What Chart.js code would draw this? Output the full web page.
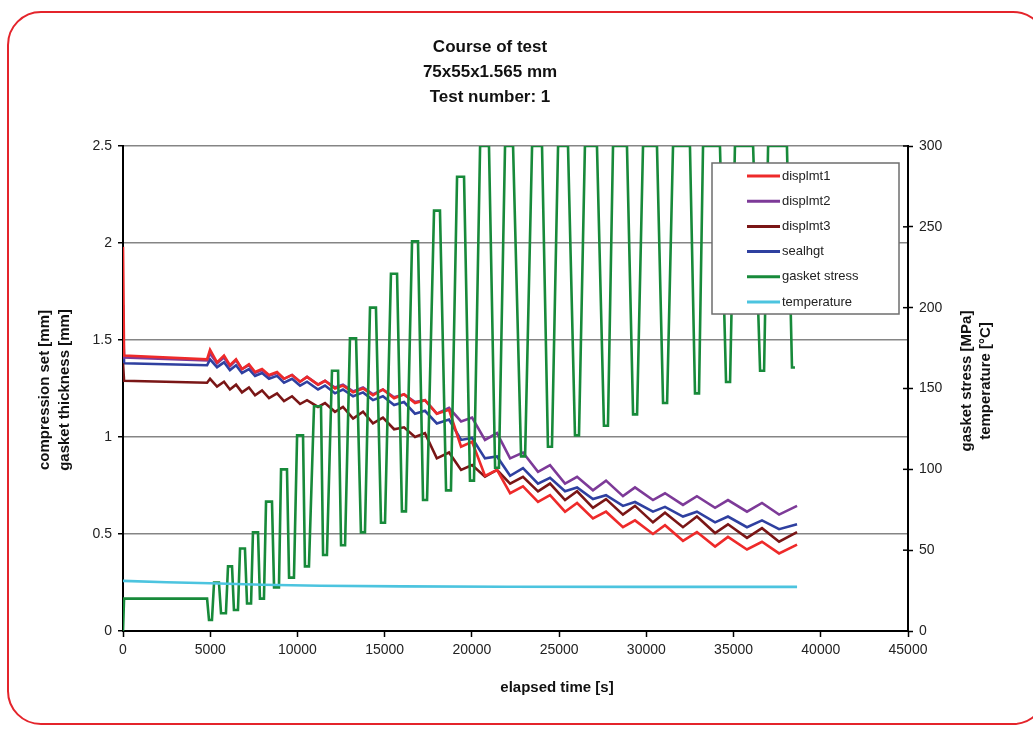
<!DOCTYPE html>
<html>
<head>
<meta charset="utf-8">
<script src="https://cdn.jsdelivr.net/npm/chart.js@4.4.1/dist/chart.umd.min.js"></script>
<style>
  body { margin: 0; background: #fff; overflow: hidden; width: 1033px; height: 730px; }
  #frame { position: absolute; left: 7px; top: 11px; width: 1040px; height: 714px; border: 2px solid #e4242b; border-radius: 34px; box-sizing: border-box; }
  #chart { position: absolute; left: 0; top: 0; }
</style>
</head>
<body>
<div id="frame"></div>
<canvas id="chart" width="1033" height="730"></canvas>
<script>
const FONT = "'Liberation Sans', Arial, sans-serif";

// titles
const titleLines = ['Course of test', '75x55x1.565 mm', 'Test number: 1'];
const leftTitle = ['compression set [mm]', 'gasket thickness [mm]'];
const rightTitle = ['gasket stress [MPa]', 'temperature [°C]'];
const xTitle = 'elapsed time [s]';

// elapsed time [s] for the displacement curves
const dispTime = [0, 60, 4820, 4990, 5390, 5790, 6130, 6480, 6820, 7220, 7570, 7970, 8370, 8830, 9230, 9690,
  10150, 10550, 11180, 11580, 12150, 12610, 13190, 13760, 14330, 14900, 15540, 16110, 16740, 17310, 17990,
  18690, 19380, 20010, 20750, 21440, 22190, 22930, 23790, 24480, 25340, 26030, 26940, 27690, 28660, 29350,
  30380, 31070, 32100, 32900, 33940, 34680, 35770, 36630, 37610, 38640];

// [mm]
const displmt1 = [1.98, 1.42, 1.40, 1.45, 1.385, 1.42, 1.37, 1.40, 1.35, 1.375, 1.335, 1.35, 1.32, 1.335, 1.30, 1.32,
  1.285, 1.31, 1.27, 1.29, 1.25, 1.265, 1.23, 1.25, 1.215, 1.245, 1.20, 1.22, 1.175, 1.19, 1.12,
  1.14, 0.95, 0.975, 0.80, 0.83, 0.71, 0.745, 0.665, 0.70, 0.615, 0.66, 0.58, 0.615, 0.535, 0.57,
  0.50, 0.545, 0.465, 0.51, 0.435, 0.485, 0.42, 0.46, 0.40, 0.445];
const displmt2 = [1.55, 1.41, 1.395, 1.43, 1.38, 1.41, 1.365, 1.395, 1.35, 1.37, 1.33, 1.345, 1.315, 1.33, 1.30, 1.32,
  1.285, 1.31, 1.27, 1.29, 1.255, 1.27, 1.235, 1.255, 1.22, 1.245, 1.205, 1.22, 1.18, 1.19, 1.12,
  1.15, 1.08, 1.10, 0.985, 1.02, 0.89, 0.92, 0.82, 0.855, 0.76, 0.795, 0.725, 0.775, 0.695, 0.74,
  0.675, 0.71, 0.65, 0.695, 0.635, 0.675, 0.615, 0.66, 0.60, 0.645];
const displmt3 = [1.38, 1.29, 1.28, 1.30, 1.26, 1.285, 1.245, 1.27, 1.23, 1.255, 1.215, 1.24, 1.20, 1.225, 1.185, 1.21,
  1.17, 1.19, 1.155, 1.175, 1.13, 1.155, 1.095, 1.13, 1.07, 1.10, 1.04, 1.05, 1.00, 1.02, 0.89,
  0.92, 0.83, 0.855, 0.795, 0.83, 0.76, 0.795, 0.72, 0.76, 0.675, 0.72, 0.635, 0.68, 0.60, 0.645,
  0.56, 0.61, 0.535, 0.59, 0.505, 0.55, 0.48, 0.53, 0.46, 0.51];
const sealhgt = [1.68, 1.38, 1.37, 1.40, 1.36, 1.385, 1.345, 1.37, 1.33, 1.35, 1.315, 1.33, 1.30, 1.315, 1.28, 1.30,
  1.265, 1.285, 1.245, 1.265, 1.225, 1.245, 1.21, 1.23, 1.19, 1.21, 1.165, 1.18, 1.12, 1.135, 1.07,
  1.09, 0.985, 0.995, 0.89, 0.90, 0.80, 0.84, 0.76, 0.79, 0.72, 0.74, 0.68, 0.70, 0.645, 0.665,
  0.615, 0.64, 0.59, 0.615, 0.56, 0.59, 0.535, 0.57, 0.525, 0.55];

// gasket stress [MPa]
const stressTime = [0, 60, 4820, 4930, 5100, 5220, 5500, 5620, 5900, 6020, 6250, 6360, 6590, 6710, 6990, 7110, 7340,
  7450, 7740, 7850, 8080, 8200, 8540, 8660, 8940, 9060, 9400, 9520, 9800, 9980, 10320, 10430, 10660,
  10950, 11350, 11470, 11690, 11980, 12330, 12500, 12730, 13010, 13360, 13640, 13870, 14160, 14500, 14790, 15020,
  15360, 15710, 15990, 16220, 16570, 16910, 17200, 17430, 17830, 18170, 18520, 18800, 19150, 19550, 19890, 20120,
  20470, 20980, 21330, 21550, 21900, 22360, 22820, 23050, 23450, 24020, 24360, 24590, 24940, 25510, 25910, 26140,
  26480, 27170, 27570, 27800, 28090, 28890, 29240, 29470, 29810, 30610, 30960, 31190, 31530, 32500, 32790, 33020,
  33250, 34220, 34570, 34800, 35080, 36120, 36520, 36750, 36980, 38060, 38350, 38520];
const stressMPa = [0, 20, 20, 6.8, 6.8, 30, 30, 11, 11, 40, 40, 13, 13, 51, 51, 17, 17,
  61, 61, 20, 20, 80, 80, 27, 27, 100, 100, 33, 33, 121, 121, 40, 40,
  139, 139, 47, 47, 161, 161, 53, 53, 181, 181, 61, 61, 200, 200, 67, 67,
  221, 221, 74, 74, 241, 241, 81, 81, 260, 260, 87, 87, 281, 281, 93, 93,
  300, 300, 101, 101, 300, 300, 108, 108, 300, 300, 114, 114, 300, 300, 121, 121,
  300, 300, 127, 127, 300, 300, 134, 134, 300, 300, 141, 141, 300, 300, 147, 147,
  300, 300, 154, 154, 300, 300, 161, 161, 300, 300, 163, 163];

// temperature [°C]
const tempTime = [0, 2500, 5000, 8000, 11300, 16000, 22000, 30000, 38640];
const tempC = [31, 30.2, 29.5, 28.6, 28.0, 27.6, 27.4, 27.3, 27.3];

function pts(xs, ys) {
  return xs.map((x, i) => ({ x: x, y: ys[i] }));
}

function lineSet(label, xs, ys, color, axis, order) {
  return {
    label: label,
    data: pts(xs, ys),
    borderColor: color,
    backgroundColor: color,
    borderWidth: 2.6,
    pointRadius: 0,
    tension: 0,
    fill: false,
    yAxisID: axis,
    order: order
  };
}

function rotatedText(ctx, lines, x, y, step) {
  ctx.save();
  ctx.translate(x, y);
  ctx.rotate(-Math.PI / 2);
  lines.forEach((t, i) => ctx.fillText(t, 0, i * step));
  ctx.restore();
}

// titles, right axis inner ticks and the boxed legend over the plot
const decor = {
  id: 'decor',
  afterDatasetsDraw(chart) {
    const ctx = chart.ctx;
    const lx = 712, ly = 163, lw = 187, lh = 151;
    ctx.save();
    ctx.fillStyle = '#fff';
    ctx.fillRect(lx, ly, lw, lh);
    ctx.strokeStyle = '#6e6e6e';
    ctx.lineWidth = 1.5;
    ctx.strokeRect(lx, ly, lw, lh);
    ctx.font = '13px ' + FONT;
    ctx.textAlign = 'left';
    ctx.textBaseline = 'middle';
    chart.data.datasets.forEach((ds, i) => {
      const y = 176 + i * 25.2;
      ctx.strokeStyle = ds.borderColor;
      ctx.lineWidth = 3;
      ctx.beginPath();
      ctx.moveTo(747, y);
      ctx.lineTo(780, y);
      ctx.stroke();
      ctx.fillStyle = '#222';
      ctx.fillText(ds.label, 782, y);
    });
    ctx.restore();
  },
  afterDraw(chart) {
    const ctx = chart.ctx;
    const area = chart.chartArea;
    ctx.save();
    ctx.fillStyle = '#111';
    ctx.textAlign = 'center';
    ctx.textBaseline = 'middle';
    ctx.font = 'bold 17px ' + FONT;
    titleLines.forEach((t, i) => ctx.fillText(t, 490, 47 + i * 25));
    ctx.font = 'bold 15px ' + FONT;
    ctx.fillText(xTitle, 557, 688);
    rotatedText(ctx, leftTitle, 45, 390, 20);
    rotatedText(ctx, rightTitle, 967, 381, 19);

    const y1 = chart.scales.y1;
    ctx.strokeStyle = '#000';
    ctx.lineWidth = 1.5;
    y1.ticks.forEach(t => {
      const py = y1.getPixelForValue(t.value);
      ctx.beginPath();
      ctx.moveTo(area.right - 5, py);
      ctx.lineTo(area.right, py);
      ctx.stroke();
    });
    ctx.restore();
  }
};

const tickFont = { family: FONT, size: 14 };

new Chart(document.getElementById('chart'), {
  type: 'line',
  data: {
    datasets: [
      lineSet('displmt1', dispTime, displmt1, '#ee2a2a', 'y', 2),
      lineSet('displmt2', dispTime, displmt2, '#7d3a98', 'y', 3),
      lineSet('displmt3', dispTime, displmt3, '#7a1616', 'y', 4),
      lineSet('sealhgt', dispTime, sealhgt, '#2f40a0', 'y', 5),
      lineSet('gasket stress', stressTime, stressMPa, '#178a3a', 'y1', 1),
      lineSet('temperature', tempTime, tempC, '#4cc4df', 'y1', 0)
    ]
  },
  options: {
    responsive: false,
    animation: false,
    devicePixelRatio: 1,
    layout: { padding: { top: 146, left: 0, right: 0, bottom: 0 } },
    plugins: {
      legend: { display: false },
      title: { display: false },
      tooltip: { enabled: false }
    },
    scales: {
      x: {
        type: 'linear',
        min: 0,
        max: 45000,
        ticks: { stepSize: 5000, color: '#222', font: tickFont, padding: 5, maxRotation: 0, callback: v => String(v) },
        grid: { drawOnChartArea: false, drawTicks: true, tickLength: 6, tickColor: '#000', tickWidth: 1.5 },
        border: { display: true, color: '#000', width: 2 },
        afterFit(s) { s.height = 99; }
      },
      y: {
        position: 'left',
        min: 0,
        max: 2.5,
        ticks: { stepSize: 0.5, color: '#222', font: tickFont, padding: 6, callback: v => String(v) },
        grid: { color: '#858585', lineWidth: 1.5, tickLength: 5, tickColor: '#000', tickWidth: 1.5 },
        border: { display: true, color: '#000', width: 2 },
        afterFit(s) { s.width = 123; }
      },
      y1: {
        position: 'right',
        min: 0,
        max: 300,
        ticks: { stepSize: 50, color: '#222', font: tickFont, padding: 6, callback: v => String(v) },
        grid: { drawOnChartArea: false, tickLength: 5, tickColor: '#000', tickWidth: 1.5 },
        border: { display: true, color: '#000', width: 2 },
        afterFit(s) { s.width = 125; }
      }
    }
  },
  plugins: [decor]
});
</script>
</body>
</html>
